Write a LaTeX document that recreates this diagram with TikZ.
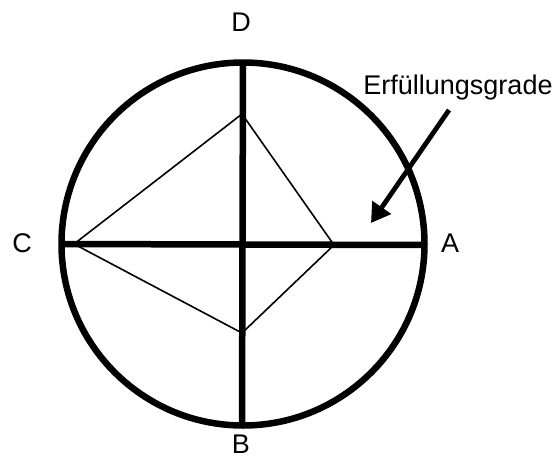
\documentclass[tikz,border=0pt]{standalone}
\usepackage{fontspec}
\setmainfont{Liberation Sans}
\usetikzlibrary{arrows.meta}

\begin{document}
\begin{tikzpicture}[x=1pt,y=1pt,font=\fontsize{27}{31}\selectfont,
      axis/.style={line width=6.5pt},
      grade/.style={line width=1.6pt},
      pointer/.style={line width=4.8pt,-{Triangle[length=19pt,width=22pt]}}]
      \useasboundingbox (0,0) rectangle (557,-466);
      % Kreis und Achsen
      \draw[axis] (243,-244) circle (181.5);
      \coordinate (endD) at (243,-63);
      \coordinate (endB) at (242,-426);
      \coordinate (endC) at (62,-244);
      \coordinate (endA) at (424,-245);
      \draw[axis] (endD) -- (endB);
      \draw[axis] (endC) -- (endA);
      \node (labD) at (241,-22) {D};
      \node (labB) at (241,-444) {B};
      \node (labC) at (22,-243) {C};
      \node (labA) at (450,-243) {A};
      % Erfuellungsgrade
      \coordinate (gradeD) at (242,-114);
      \coordinate (gradeA) at (334,-245);
      \coordinate (gradeB) at (242,-333);
      \coordinate (gradeC) at (74,-244);
      \draw[grade] (gradeC) -- (gradeD) -- (gradeA) -- (gradeB) -- cycle;
      \node (title) at (458,-88) {Erfüllungsgrade};
      \coordinate (tip) at (371,-223);
      \draw[pointer] (449,-110) -- (tip);
    \end{tikzpicture}
\end{document}
